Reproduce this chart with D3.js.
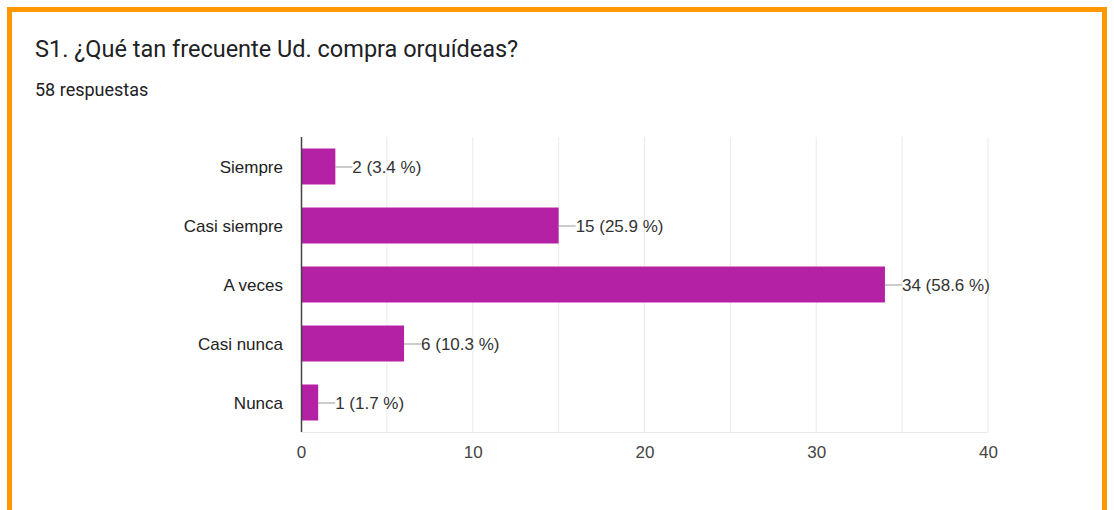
<!DOCTYPE html>
<html><head><meta charset="utf-8">
<script src="https://cdn.jsdelivr.net/npm/d3@7"></script>
<style>html,body{margin:0;padding:0;background:#fff;}</style>
</head><body>
<svg id="c" width="1114" height="510"></svg>
<script>
const categories = ["Siempre", "Casi siempre", "A veces", "Casi nunca", "Nunca"];
const counts = [2, 15, 34, 6, 1];
const percents = ["3.4", "25.9", "58.6", "10.3", "1.7"];
const xTicks = [0, 10, 20, 30, 40];
const gridValues = [5, 10, 15, 20, 25, 30, 35, 40];
const title = "S1. ¿Qué tan frecuente Ud. compra orquídeas?";
const subtitle = "58 respuestas";

const svg = d3.select("#c");
svg.append("rect").attr("x", 9.5).attr("y", 9.5).attr("width", 1095).attr("height", 510)
  .attr("fill", "#fff").attr("stroke", "#FF9800").attr("stroke-width", 5);

svg.append("text").attr("x", 35).attr("y", 57).text(title)
  .attr("font-family", "Roboto, sans-serif").attr("font-size", 23.5).attr("fill", "#202124");
svg.append("text").attr("x", 35).attr("y", 96).text(subtitle)
  .attr("font-family", "Roboto, sans-serif").attr("font-size", 18).attr("fill", "#202124");

const x = d3.scaleLinear().domain([0, 40]).range([301, 988]);
const y = d3.scaleBand().domain(categories).range([137, 432]).paddingInner(0.39).paddingOuter(0.195);

const g = svg.append("g");
g.selectAll("line.grid").data(gridValues).join("line")
  .attr("x1", d => x(d)).attr("x2", d => x(d)).attr("y1", 137).attr("y2", 432)
  .attr("stroke", "#ebebeb").attr("stroke-width", 1);
g.append("line").attr("x1", 301).attr("x2", 988).attr("y1", 432.5).attr("y2", 432.5)
  .attr("stroke", "#ebebeb");

g.selectAll("rect.bar").data(counts).join("rect")
  .attr("x", x(0)).attr("y", (d, i) => y(categories[i]))
  .attr("width", d => x(d) - x(0)).attr("height", y.bandwidth())
  .attr("fill", "#B521A5");

g.append("line").attr("x1", 301.5).attr("x2", 301.5).attr("y1", 137).attr("y2", 432)
  .attr("stroke", "#444").attr("stroke-width", 1.5);

g.selectAll("line.lead").data(counts).join("line")
  .attr("x1", d => x(d)).attr("x2", d => x(d) + 17)
  .attr("y1", (d, i) => y(categories[i]) + y.bandwidth() / 2 + 0.5)
  .attr("y2", (d, i) => y(categories[i]) + y.bandwidth() / 2 + 0.5)
  .attr("stroke", "#999").attr("stroke-width", 1);

g.selectAll("text.val").data(counts).join("text")
  .attr("x", d => x(d) + 17)
  .attr("y", (d, i) => y(categories[i]) + y.bandwidth() / 2 + 6)
  .text((d, i) => `${d} (${percents[i]} %)`)
  .attr("font-family", "Liberation Sans, Arial, sans-serif").attr("font-size", 17).attr("fill", "#333");

g.selectAll("text.cat").data(categories).join("text")
  .attr("x", 283).attr("y", d => y(d) + y.bandwidth() / 2 + 6)
  .attr("text-anchor", "end").text(d => d)
  .attr("font-family", "Liberation Sans, Arial, sans-serif").attr("font-size", 17).attr("fill", "#222");

const axis = d3.axisBottom(x).tickValues(xTicks).tickSize(0).tickPadding(0);
const ax = svg.append("g").attr("transform", "translate(0,432)").call(axis);
ax.select(".domain").remove();
ax.selectAll("text").attr("y", 26).attr("dy", 0)
  .attr("font-family", "Liberation Sans, Arial, sans-serif").attr("font-size", 17).attr("fill", "#444");
</script>
</body></html>
